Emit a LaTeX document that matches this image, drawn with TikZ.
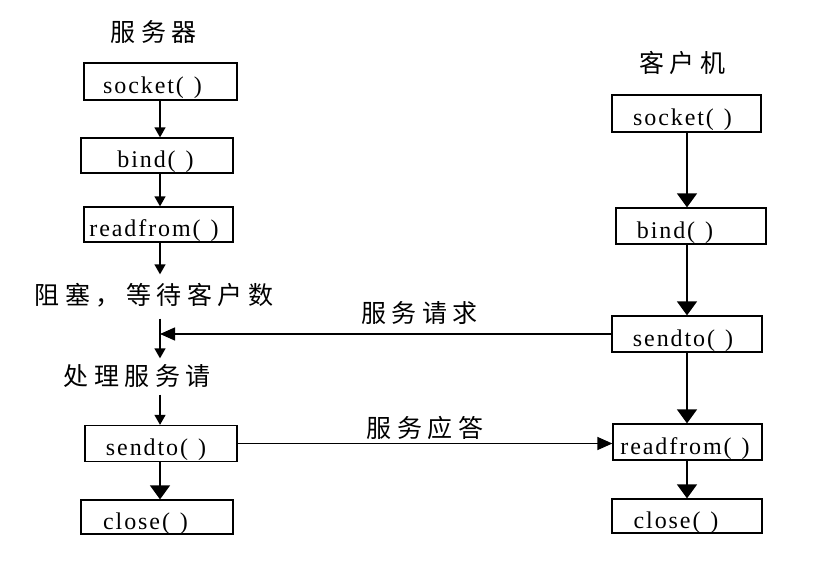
\documentclass[tikz,border=0pt]{standalone}
\usepackage{fontspec}
\setmainfont{Liberation Serif}
\newfontfamily\fnfont[LetterSpace=8]{Liberation Serif}
\newfontfamily\cjk{Noto Sans CJK SC}
\usetikzlibrary{arrows.meta}
\newcommand\tk{\kern5.5pt}
\begin{document}
\begin{tikzpicture}[x=1pt,y=-1pt,
  fbox/.style={draw, line width=1.3pt, font=\fnfont\fontsize{24}{28}\selectfont,
    text height=24pt, text depth=0pt, inner sep=0pt},
  cjkl/.style={font=\cjk\fontsize{25}{29}\selectfont, inner sep=0pt,
    text height=29.5pt, text depth=9.5pt},
  arrS/.style={line width=1.4pt, -{Triangle[width=11pt,length=10pt]}},
  arrL/.style={line width=1.4pt, -{Triangle[width=20pt,length=14pt]}},
  arrH/.style={line width=1.4pt, -{Triangle[width=13pt,length=15pt]}}]
\useasboundingbox (0,0) rectangle (816,568);
\fill[white] (0,0) rectangle (816,568);
\coordinate (scol) at (160,0);
\coordinate (ccol) at (687,0);
% titles
\node[cjkl] (ttl1) at (153.5,31) {服\tk 务\tk 器};
\node[cjkl] (ttl2) at (682,62) {客\tk 户\tk 机};
% server
\node[fbox, minimum width=153pt, minimum height=37pt] (ssock) at (160.5,81.5) {socket(\ \kern2pt)\kern16pt};
\node[fbox, minimum width=152pt, minimum height=35pt] (sbind) at (157,155.5) {bind(\ \kern2pt)\kern3pt};
\node[fbox, minimum width=149pt, minimum height=35pt] (srf) at (158.5,224.5) {readfrom(\ \kern2pt)\kern9pt};
\node[cjkl] (wait) at (154,294) {阻\tk 塞\tk ，\tk 等\tk 待\tk 客\tk 户\tk 数};
\node[cjkl] (proc) at (137,375) {处\tk 理\tk 服\tk 务\tk 请};
\node[fbox, minimum width=152pt, minimum height=36pt] (ssend) at (161,443.5) {sendto(\ \kern2pt)\kern10pt};
\node[fbox, minimum width=152pt, minimum height=34pt] (sclose) at (157,517) {close(\ \kern2pt)\kern23pt};
% client
\node[fbox, minimum width=149pt, minimum height=37pt] (csock) at (686.5,113.5) {socket(\ \kern2pt)\kern8pt};
\node[fbox, minimum width=150pt, minimum height=36pt] (cbind) at (691,226) {bind(\ \kern2pt)\kern32pt};
\node[fbox, minimum width=150pt, minimum height=36pt] (csend) at (687,334) {sendto(\ \kern2pt)\kern8pt};
\node[fbox, minimum width=149pt, minimum height=36pt] (crf) at (687.5,442) {readfrom(\ \kern2pt)\kern5pt};
\node[fbox, minimum width=150pt, minimum height=34pt] (cclose) at (687,516) {close(\ \kern2pt)\kern22pt};
% server arrows
\draw[arrS] (ssock.south -| scol) -- (sbind.north -| scol);
\draw[arrS] (sbind.south -| scol) -- (srf.north -| scol);
\draw[arrS] (srf.south -| scol) -- (wait.north -| scol);
\draw[arrS, shorten <=5pt, shorten >=-3pt] (wait.south -| scol) -- (proc.north -| scol);
\draw[arrS] (proc.south -| scol) -- (ssend.north -| scol);
\draw[arrL] (ssend.south -| scol) -- (sclose.north -| scol);
% client arrows
\draw[arrL] (csock.south -| ccol) -- (cbind.north -| ccol);
\draw[arrL] (cbind.south -| ccol) -- (csend.north -| ccol);
\draw[arrL] (csend.south -| ccol) -- (crf.north -| ccol);
\draw[arrL] (crf.south -| ccol) -- (cclose.north -| ccol);
% messages
\draw[arrH] (csend.west) -- (csend.west -| scol)
  node[cjkl, pos=0.425, yshift=22pt] (req) {服\tk 务\tk 请\tk 求};
\draw[arrH] (ssend.east) -- (ssend.east -| crf.west)
  node[cjkl, pos=0.5, yshift=16.5pt] (resp) {服\tk 务\tk 应\tk 答};
\end{tikzpicture}
\end{document}
